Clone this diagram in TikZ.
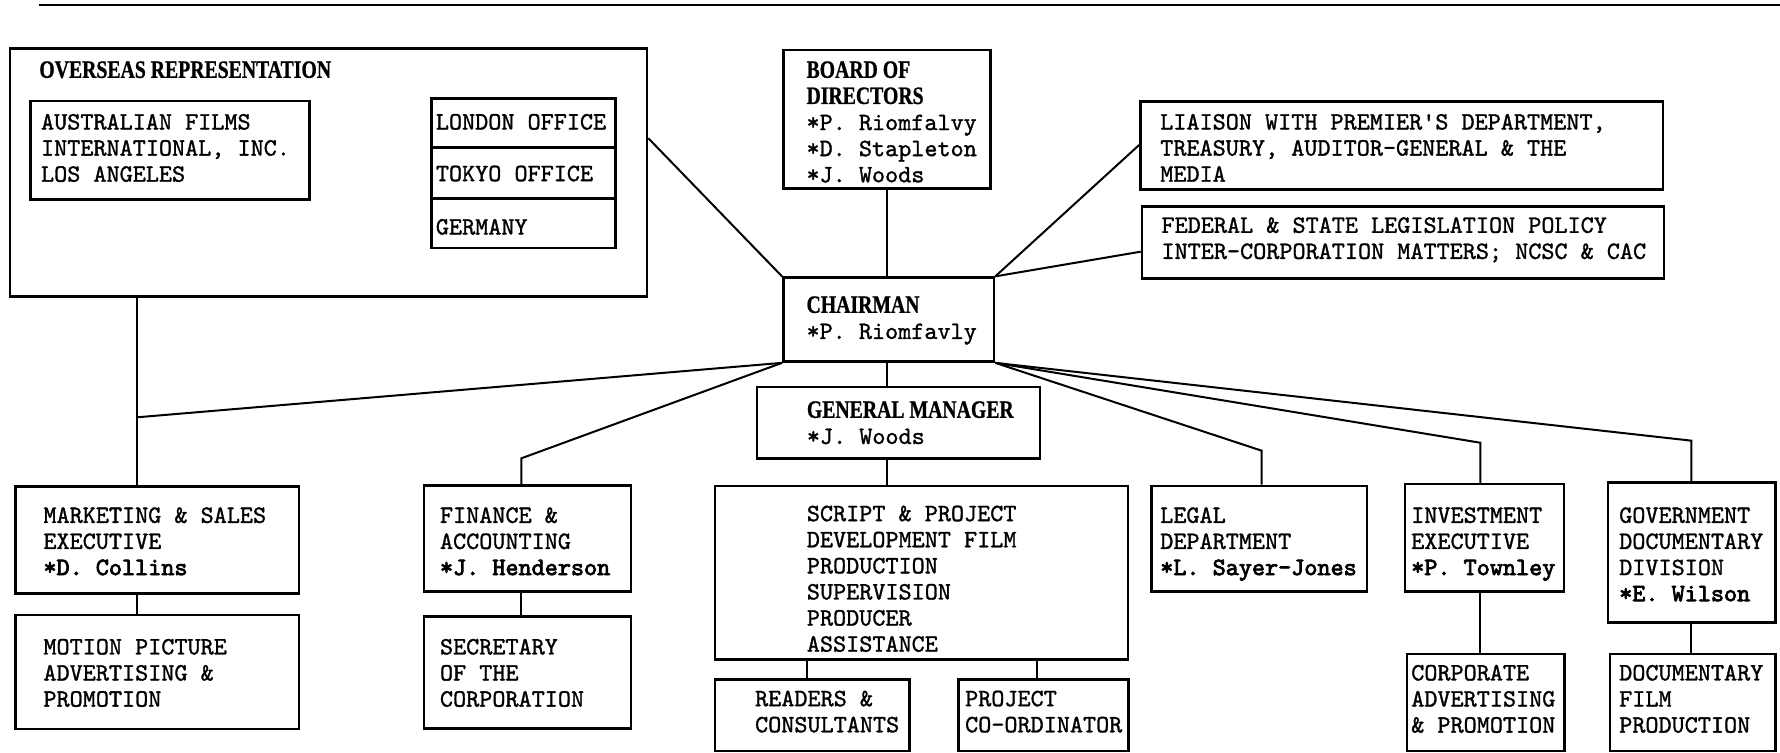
\documentclass[tikz,border=0pt]{standalone}
\usepackage{fontspec}
\usetikzlibrary{fit}
\newfontfamily\twf[FakeBold=1.2]{lmmono10-regular.otf}
\newfontfamily\twbf[FakeBold=3]{lmmono10-regular.otf}
\newfontfamily\hdf{Liberation Serif}[FakeStretch=0.79, FakeBold=0.8]
\newcommand\tw{\twf\fontsize{24.95pt}{26.1pt}\selectfont}
\newcommand\twb{\twbf\fontsize{24.95pt}{26.1pt}\selectfont}
\newcommand\hd{\hdf\bfseries\fontsize{25pt}{26.1pt}\selectfont}
\newcommand\st{\rule{0pt}{20pt}}
\tikzset{
  bx/.style={draw, line width=2.6pt, inner sep=0pt},
  txt/.style={inner sep=0pt, anchor=north west, align=left, yshift=20pt, font=\tw},
  conn/.style={line width=2pt},
  toprule/.style={line width=2.2pt}
}
\begin{document}
\begin{tikzpicture}[x=1.1352pt, y=-1.1352pt]
\fill[white] (0,0) rectangle (1568,663);
\useasboundingbox (0,0) rectangle (1568,663);
% top rule
\coordinate (r1) at (34.5,4.4);
\coordinate (r2) at (1568,4.4);
\draw[toprule] (r1) -- (r2);
% boxes
\node[bx, fit={(8.9,42.6) (570,261.4)}] (ov) {};
\node[bx, fit={(26.7,89) (272.5,175.6)}] (afi) {};
\node[bx, fit={(380,86.6) (542.4,129.8)}] (lon) {};
\node[bx, fit={(380,129.8) (542.4,174.7)}] (tok) {};
\node[bx, fit={(380,174.7) (542.4,218.6)}] (ger) {};
\node[bx, fit={(690,44) (872.4,166)}] (board) {};
\node[bx, fit={(690,244.6) (875.6,318.5)}] (chair) {};
\node[bx, fit={(1004.6,89.6) (1465,167)}] (liai) {};
\node[bx, fit={(1006,182) (1465.8,245.5)}] (fed) {};
\node[bx, fit={(666.7,340.8) (916,404)}] (gm) {};
\node[bx, fit={(13.8,428.7) (263.5,522.7)}] (mkt) {};
\node[bx, fit={(13.8,541.8) (263.5,642.2)}] (mot) {};
\node[bx, fit={(373.6,427.5) (555.7,521.2)}] (fin) {};
\node[bx, fit={(373.6,543.2) (555.7,641.6)}] (sec) {};
\node[bx, fit={(629.9,428.1) (993.5,580.8)}] (scr) {};
\node[bx, fit={(629.9,598.4) (801,661.5)}] (rdr) {};
\node[bx, fit={(844.2,598.4) (994,661.5)}] (pc) {};
\node[bx, fit={(1014.5,428.1) (1204.2,521.2)}] (leg) {};
\node[bx, fit={(1237.7,426.4) (1377.6,521.2)}] (inv) {};
\node[bx, fit={(1239.5,576.1) (1378.3,661.5)}] (corp) {};
\node[bx, fit={(1416.5,425.2) (1564.2,548.2)}] (gov) {};
\node[bx, fit={(1418.3,576.1) (1564.2,661.5)}] (doc) {};
% texts
\node[txt] (ov-t) at (34.5,68.4) {\st{\hd OVERSEAS REPRESENTATION}};
\node[txt] (afi-t) at (36,113.9) {\st AUSTRALIAN FILMS\\INTERNATIONAL, INC.\\LOS ANGELES};
\node[txt] (lon-t) at (383.8,113.9) {\st LONDON OFFICE};
\node[txt] (tok-t) at (383.8,159.4) {\st TOKYO OFFICE};
\node[txt] (ger-t) at (383.8,206.4) {\st GERMANY};
\node[txt] (board-t) at (710.3,68.4) {\st{\hd BOARD OF}\\{\hd DIRECTORS}\\*P. Riomfalvy\\*D. Stapleton\\*J. Woods};
\node[txt] (chair-t) at (710.3,275.4) {\st{\hd CHAIRMAN}\\*P. Riomfavly};
\node[txt] (liai-t) at (1021.9,113.9) {\st LIAISON WITH PREMIER'S DEPARTMENT,\\TREASURY, AUDITOR-GENERAL \& THE\\MEDIA};
\node[txt] (fed-t) at (1023,204.9) {\st FEDERAL \& STATE LEGISLATION POLICY\\INTER-CORPORATION MATTERS; NCSC \& CAC};
\node[txt] (gm-t) at (710.6,367.9) {\st{\hd GENERAL MANAGER}\\*J. Woods};
\node[txt] (mkt-t) at (38.1,460.4) {\st MARKETING \& SALES\\EXECUTIVE\\{\twb *D. Collins}};
\node[txt] (mot-t) at (38.1,576.3) {\st MOTION PICTURE\\ADVERTISING \&\\PROMOTION};
\node[txt] (fin-t) at (387.4,460.4) {\st FINANCE \&\\ACCOUNTING\\{\twb *J. Henderson}};
\node[txt] (sec-t) at (387.4,576.3) {\st SECRETARY\\OF THE\\CORPORATION};
\node[txt] (scr-t) at (710.6,458.9) {\st SCRIPT \& PROJECT\\DEVELOPMENT FILM\\PRODUCTION\\SUPERVISION\\PRODUCER\\ASSISTANCE};
\node[txt] (rdr-t) at (665,621.9) {\st READERS \&\\CONSULTANTS};
\node[txt] (pc-t) at (850,621.9) {\st PROJECT\\CO-ORDINATOR};
\node[txt] (leg-t) at (1021.9,460.4) {\st LEGAL\\DEPARTMENT\\{\twb *L. Sayer-Jones}};
\node[txt] (inv-t) at (1243,460.4) {\st INVESTMENT\\EXECUTIVE\\{\twb *P. Townley}};
\node[txt] (corp-t) at (1243,599.2) {\st CORPORATE\\ADVERTISING\\\& PROMOTION};
\node[txt] (gov-t) at (1426.2,460.4) {\st GOVERNMENT\\DOCUMENTARY\\DIVISION\\{\twb *E. Wilson}};
\node[txt] (doc-t) at (1426.2,599.2) {\st DOCUMENTARY\\FILM\\PRODUCTION};
% connector coordinates
\coordinate (j1) at (120.7,367.6);
\coordinate (e1) at (459.3,403.7);
\coordinate (o1) at (570,121.8);
\coordinate (l1) at (1004.6,127.7);
\coordinate (f1) at (1006,221.7);
\coordinate (c1) at (781,300);
\coordinate (eL) at (1111.4,397);
\coordinate (eI) at (1304,390);
\coordinate (eG) at (1490,388.2);
\coordinate (s1) at (710.6,590);
\coordinate (s2) at (913.8,590);
% connectors
\draw[conn] (j1 |- ov.south) -- (j1 |- mkt.north);
\draw[conn] (chair.south west) -- (j1);
\draw[conn] (chair.south west) -- (e1) -- (e1 |- fin.north);
\draw[conn] (chair.north west) -- (o1 -| ov.east);
\draw[conn] (c1 |- board.south) -- (c1 |- chair.north);
\draw[conn] (chair.north east) -- (l1 -| liai.west);
\draw[conn] (chair.north east) -- (f1 -| fed.west);
\draw[conn] (c1 |- chair.south) -- (c1 |- gm.north);
\draw[conn] (c1 |- gm.south) -- (c1 |- scr.north);
\draw[conn] (chair.south east) -- (eL) -- (eL |- leg.north);
\draw[conn] (chair.south east) -- (eI) -- (eI |- inv.north);
\draw[conn] (chair.south east) -- (eG) -- (eG |- gov.north);
\draw[conn] (j1 |- mkt.south) -- (j1 |- mot.north);
\draw[conn] (e1 |- fin.south) -- (e1 |- sec.north);
\draw[conn] (s1 |- scr.south) -- (s1 |- rdr.north);
\draw[conn] (s2 |- scr.south) -- (s2 |- pc.north);
\draw[conn] (eI |- inv.south) -- (eI |- corp.north);
\draw[conn] (eG |- gov.south) -- (eG |- doc.north);
\end{tikzpicture}
\end{document}
